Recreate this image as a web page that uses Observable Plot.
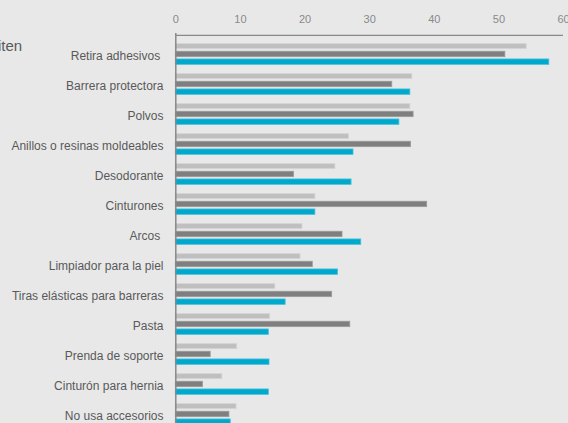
<!DOCTYPE html>
<html>
<head>
<meta charset="utf-8">
<script src="https://cdn.jsdelivr.net/npm/d3@7"></script>
<script src="https://cdn.jsdelivr.net/npm/@observablehq/plot@0.6"></script>
<style>
  html, body { margin: 0; padding: 0; background: #e8e8e8; overflow: hidden; }
  #wrap { position: relative; width: 568px; height: 423px; overflow: hidden; }
  #frag { position: absolute; left: -2px; top: 37px; font: 15px "Liberation Sans", Arial, sans-serif; color: #595959; }
</style>
</head>
<body>
<div id="wrap">
  <div id="chart"></div>
  <div id="frag">iten</div>
</div>
<script>
const categories = [
  "Retira adhesivos\u00a0", "Barrera protectora", "Polvos", "Anillos o resinas moldeables",
  "Desodorante", "Cinturones", "Arcos\u00a0", "Limpiador para la piel",
  "Tiras elásticas para barreras", "Pasta", "Prenda de soporte",
  "Cinturón para hernia", "No usa accesorios"
];
const seriesLight = [54.3, 36.6, 36.3, 26.8, 24.7, 21.6, 19.6, 19.3, 15.4, 14.6, 9.5, 7.2, 9.4];
const seriesDark  = [51.0, 33.5, 36.8, 36.4, 18.3, 38.9, 25.8, 21.2, 24.2, 27.0, 5.4, 4.2, 8.3];
const seriesBlue  = [57.8, 36.3, 34.6, 27.5, 27.2, 21.6, 28.7, 25.1, 17.0, 14.4, 14.5, 14.4, 8.5];
const xTicks = [0, 10, 20, 30, 40, 50, 60];

const rows = categories.map((c, i) => ({cat: c, light: seriesLight[i], dark: seriesDark[i], blue: seriesBlue[i]}));

const step = 30.3;
const y0 = 37.05;
const font = '"Liberation Sans", Arial, sans-serif';

const chart = Plot.plot({
  width: 568,
  height: 423,
  marginTop: 33,
  marginLeft: 175,
  marginRight: 5,
  marginBottom: 0,
  style: {background: "#e8e8e8", fontFamily: font, overflow: "hidden"},
  x: {domain: [0, 60], range: [175.3, 563], ticks: xTicks, axis: null},
  y: {domain: categories, range: [y0, y0 + step * categories.length], padding: 0, axis: null},
  marks: [
    Plot.barX(rows, {x: "light", y: "cat", fill: "#bfbfbf", stroke: "#d4d4d4", strokeWidth: 0.8, insetTop: 4.65, insetBottom: 20.35}),
    Plot.barX(rows, {x: "dark", y: "cat", fill: "#7f7f7f", stroke: "#9a9a9a", strokeWidth: 0.8, insetTop: 12.25, insetBottom: 12.35}),
    Plot.barX(rows, {x: "blue", y: "cat", fill: "#00a8cc", stroke: "#40c0dc", strokeWidth: 0.8, insetTop: 19.95, insetBottom: 4.65}),
    Plot.axisX(xTicks, {anchor: "top", tickSize: 0, tickPadding: 11, fontSize: 11, color: "#8a8a8a", fill: "#8a8a8a", label: null}),
    Plot.axisY(categories, {anchor: "left", tickSize: 0, tickPadding: 12, fontSize: 12, fill: "#595959", label: null, dy: 2}),
    Plot.ruleY([categories[0]], {x1: 0, x2: 60, dy: -19.2, stroke: "#888888", strokeWidth: 1.2}),
    Plot.ruleX([0], {stroke: "#888888", strokeWidth: 1.5})
  ]
});
document.getElementById("chart").appendChild(chart);
</script>
</body>
</html>
